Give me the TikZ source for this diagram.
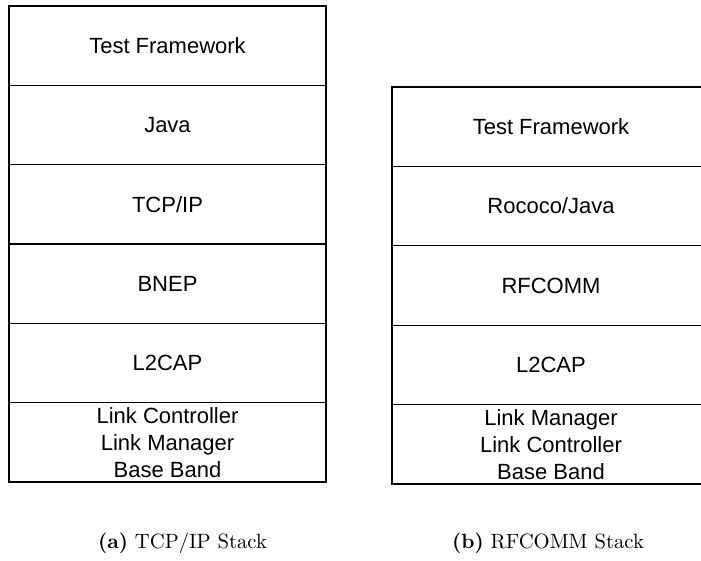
\documentclass[tikz,border=0pt]{standalone}
\usepackage{fontspec}
\newfontfamily\diagfont{Liberation Sans}
\begin{document}
\begin{tikzpicture}[x=0.75pt,y=-0.75pt,
  layerL/.style={draw=black, line width=1pt, rectangle, minimum width=237.75pt, minimum height=59.5pt, inner sep=0pt, align=center, font=\diagfont\fontsize{16.5}{20.25}\selectfont},
  layerR/.style={layerL, minimum width=238.5pt, minimum height=59.55pt},
  captext/.style={inner sep=0pt, anchor=base}]
\useasboundingbox (0,0) rectangle (701,561);
% left stack
\node[layerL] (l1) at (167.5,45.67) {Test Framework};
\node[layerL] (l2) at (167.5,125) {Java};
\node[layerL] (l3) at (167.5,204.33) {TCP/IP};
\node[layerL] (l4) at (167.5,283.67) {BNEP};
\node[layerL] (l5) at (167.5,363) {L2CAP};
\node[layerL] (l6) at (167.5,442.33) {Link Controller\\Link Manager\\Base Band};
% right stack
\node[layerR] (r1) at (551,126.7) {Test Framework};
\node[layerR] (r2) at (551,206.1) {Rococo/Java};
\node[layerR] (r3) at (551,285.5) {RFCOMM};
\node[layerR] (r4) at (551,364.9) {L2CAP};
\node[layerR] (r5) at (551,444.3) {Link Manager\\Link Controller\\Base Band};
% captions
\node[captext] (ca) at (182.5,548) {\scalebox{1.55}{\textbf{(a)} TCP/IP Stack}};
\node[captext] (cb) at (548,548) {\scalebox{1.55}{\textbf{(b)} RFCOMM Stack}};
\end{tikzpicture}
\end{document}
